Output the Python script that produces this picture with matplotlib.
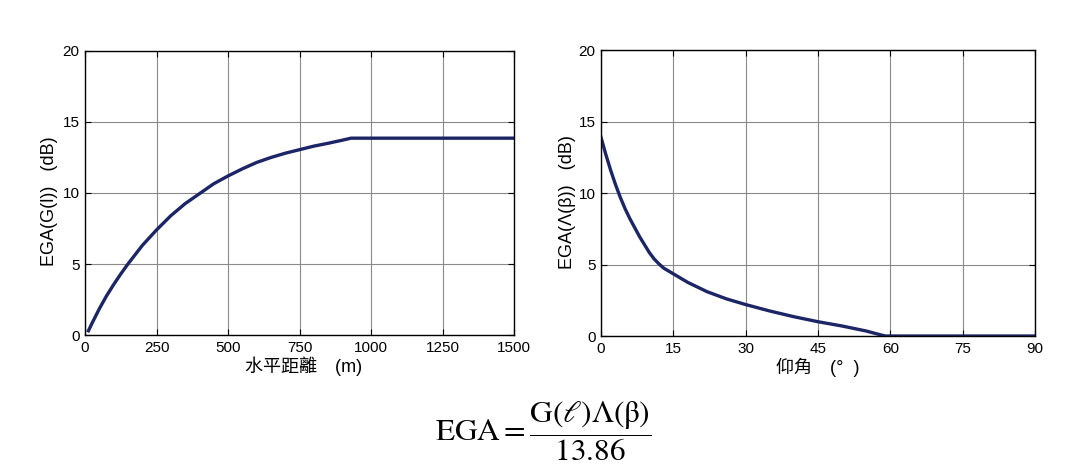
import matplotlib
matplotlib.use('Agg')
import matplotlib.pyplot as plt

plt.rcParams['font.family'] = ['Liberation Sans', 'Noto Sans CJK TC', 'DejaVu Sans']
plt.rcParams['mathtext.fontset'] = 'stix'

# 左图: 水平距離 vs EGA(G(l))
dist_m = [12, 25, 50, 75, 100, 125, 150, 200, 250, 300, 350, 400, 450, 500,
          550, 600, 650, 700, 750, 800, 850, 900, 930, 1500]
ega_g = [0.3, 0.85, 1.85, 2.75, 3.55, 4.3, 5.0, 6.3, 7.4, 8.4, 9.25, 9.95, 10.65, 11.2,
         11.7, 12.15, 12.5, 12.8, 13.05, 13.3, 13.5, 13.72, 13.86, 13.86]

# 右图: 仰角 vs EGA(Λ(β))
elev_deg = [0, 1, 2, 3, 4, 5, 6, 8, 10, 11, 12, 13, 15, 18, 22, 26, 30, 35,
            40, 45, 50, 55, 58, 59, 90]
ega_l = [13.9, 12.7, 11.6, 10.6, 9.7, 8.9, 8.2, 6.95, 5.85, 5.4, 5.05, 4.75, 4.35, 3.75,
         3.1, 2.6, 2.2, 1.75, 1.35, 1.0, 0.7, 0.35, 0.08, 0.0, 0.0]

line_color = '#1c2566'

fig = plt.figure(figsize=(10.86, 4.75), dpi=100)
ax1 = fig.add_axes([0.0783, 0.2947, 0.395, 0.598])
ax2 = fig.add_axes([0.5534, 0.2926, 0.3996, 0.602])


def style(ax):
    ax.grid(True, color='#8a8a8a', linewidth=0.8)
    ax.set_axisbelow(True)
    ax.tick_params(direction='in', top=True, right=True, labelsize=11, length=4, pad=4)
    for s in ax.spines.values():
        s.set_linewidth(1.0)
        s.set_color('black')


ax1.plot(dist_m, ega_g, color=line_color, linewidth=2.4, solid_joinstyle='round')
ax1.set_xlim(0, 1500)
ax1.set_ylim(0, 20)
ax1.set_xticks([0, 250, 500, 750, 1000, 1250, 1500])
ax1.set_yticks([0, 5, 10, 15, 20])
ax1.set_xlabel('水平距離　(m)', fontsize=13)
ax1.set_ylabel('EGA(G(l))   (dB)', fontsize=13)
style(ax1)
ax1.xaxis.set_label_coords(0.51, -0.075)
ax1.yaxis.set_label_coords(-0.062, 0.47)

ax2.plot(elev_deg, ega_l, color=line_color, linewidth=2.4, solid_joinstyle='round')
ax2.set_xlim(0, 90)
ax2.set_ylim(0, 20)
ax2.set_xticks([0, 15, 30, 45, 60, 75, 90])
ax2.set_yticks([0, 5, 10, 15, 20])
ax2.set_xlabel('仰角　(°  )', fontsize=13)
ax2.set_ylabel('EGA(Λ(β))   (dB)', fontsize=13)
style(ax2)
ax2.xaxis.set_label_coords(0.5, -0.075)
ax2.yaxis.set_label_coords(-0.058, 0.47)

fig.text(0.5005, 0.0916, r'$\mathrm{EGA}=\dfrac{\mathrm{G}(\ell)\Lambda(\mathrm{\beta})}{13.86}$',
         ha='center', va='center', fontsize=22.5)

fig.savefig('out.png', dpi=100, facecolor='white')
